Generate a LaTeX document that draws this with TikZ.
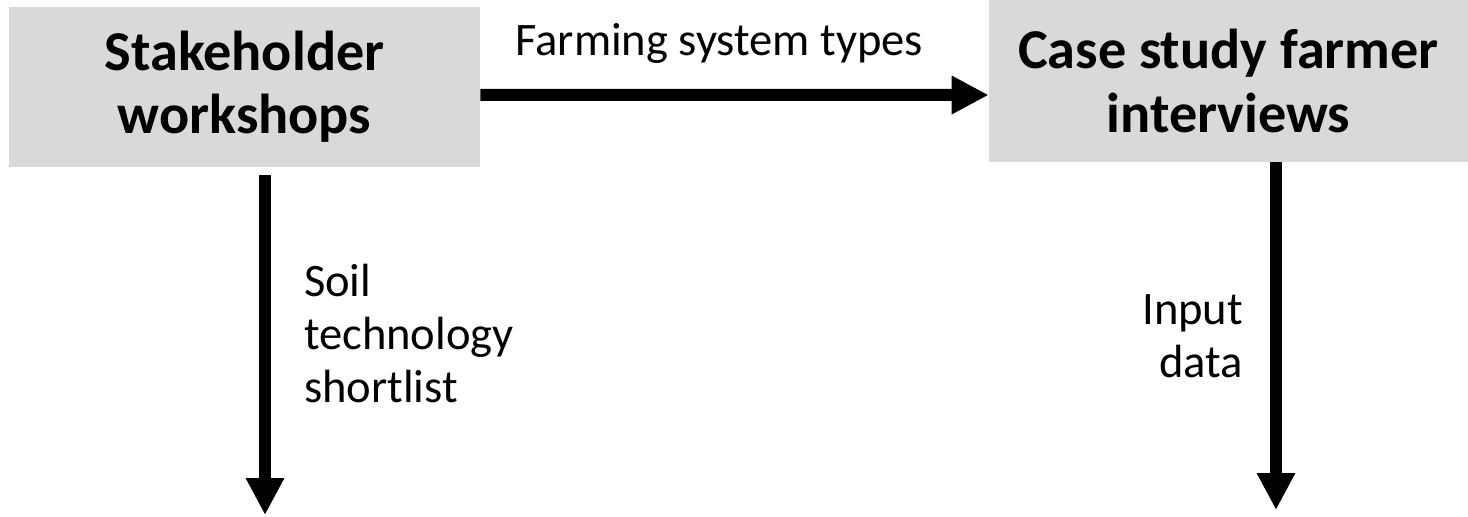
\documentclass[tikz,border=0pt]{standalone}
\usepackage{fontspec}
\setmainfont{Carlito}
\usetikzlibrary{positioning,arrows.meta}

\tikzset{
  stepbox/.style={fill={rgb,255:red,217;green,217;blue,217}, inner sep=0pt, align=center,
    font=\fontsize{32}{36}\selectfont\bfseries},
  flow/.style={line width=0.24cm, -{Triangle[length=0.74cm,width=0.72cm]}},
  lbl/.style={inner sep=0pt, font=\fontsize{26.5}{30.2}\selectfont}
}

\begin{document}
\begin{tikzpicture}
\useasboundingbox (0,0) rectangle (29.36,-10.34);
\node[stepbox, minimum width=9.42cm, minimum height=3.2cm] (sw) at (4.89,-1.74) {Stakeholder\\workshops};
\node[stepbox, minimum width=9.58cm, minimum height=3.24cm] (csi) at (24.57,-1.62) {Case study farmer\\interviews};
\coordinate (swend) at (5.3,-10.3);
\coordinate (csiend) at (25.52,-10.2);
% connectors
\draw[flow] ([yshift=-0.16cm]sw.east) -- ([yshift=-0.28cm]csi.west)
  node[lbl, pos=0.47, above=0.5cm] (fst) {Farming system types};
\draw[flow] ([xshift=0.41cm, yshift=-0.16cm]sw.south) -- (swend)
  node[lbl, pos=0.465, right=0.66cm, align=left] (stl) {Soil\\technology\\shortlist};
\draw[flow] ([xshift=0.95cm]csi.south) -- (csiend)
  node[lbl, pos=0.5, left=0.54cm, align=right] (ind) {Input\\data};
\end{tikzpicture}
\end{document}
